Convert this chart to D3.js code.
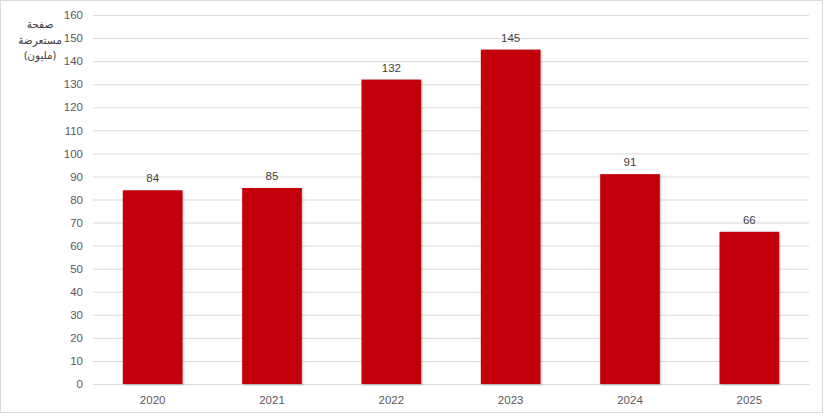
<!DOCTYPE html>
<html><head><meta charset="utf-8">
<script src="https://cdn.jsdelivr.net/npm/d3@7"></script>
<style>body{margin:0;background:#fff}svg{display:block}</style>
</head><body>
<svg id="c" width="825" height="416"></svg>
<script>
const years = ["2020","2021","2022","2023","2024","2025"];
const pages = [84, 85, 132, 145, 91, 66];
const yTicks = [0,10,20,30,40,50,60,70,80,90,100,110,120,130,140,150,160];
const titleLines = ["صفحة","مستعرضة","(مليون)"];

const svg = d3.select("#c");
const W = 825, H = 416;
const m = {left: 93, right: 16, top: 15, bottom: 32};
const x = d3.scaleBand().domain(years).range([m.left, W - m.right]).paddingInner(0.5).paddingOuter(0.25);
const y = d3.scaleLinear().domain([0,160]).range([H - m.bottom, m.top]);
const font = "'Liberation Sans', Arial, sans-serif";

svg.append("rect").attr("x",0.5).attr("y",0.5).attr("width",W-3).attr("height",H-4)
  .attr("fill","#fff").attr("stroke","#d9d9d9");

const ya = svg.append("g").attr("transform",`translate(${m.left},0)`)
  .call(d3.axisLeft(y).tickValues(yTicks).tickSize(-(W - m.right - m.left)).tickPadding(10));
ya.select(".domain").remove();
ya.selectAll(".tick line").attr("stroke","#d9d9d9").attr("stroke-width",1);
ya.selectAll(".tick text").attr("fill","#595959").style("font-family",font).style("font-size","11.5px");

const xa = svg.append("g").attr("transform",`translate(0,${H - m.bottom})`)
  .call(d3.axisBottom(x).tickSize(0).tickPadding(12));
xa.select(".domain").attr("stroke","#d9d9d9");
xa.selectAll(".tick text").attr("fill","#595959").style("font-family",font).style("font-size","11.5px");

svg.append("g").selectAll("rect").data(years).join("rect")
  .attr("x", d => x(d)).attr("width", x.bandwidth())
  .attr("y", (d,i) => y(pages[i])).attr("height", (d,i) => y(0) - y(pages[i]))
  .attr("fill","#c3000a")
  .style("filter","drop-shadow(1px 1px 1px rgba(0,0,0,0.25))");

svg.append("g").selectAll("text").data(years).join("text")
  .attr("x", d => x(d) + x.bandwidth()/2).attr("y", (d,i) => y(pages[i]) - 8)
  .attr("text-anchor","middle").attr("fill","#404040")
  .style("font-family",font).style("font-size","11.5px")
  .text((d,i) => pages[i]);

svg.append("g").selectAll("text").data(titleLines).join("text")
  .attr("x", 40).attr("y", (d,i) => 28 + i*15.5)
  .attr("text-anchor","middle").attr("fill","#404040")
  .style("font-family","'Noto Sans', 'DejaVu Sans', sans-serif").style("font-size","10.5px")
  .text(d => d);
</script>
</body></html>
